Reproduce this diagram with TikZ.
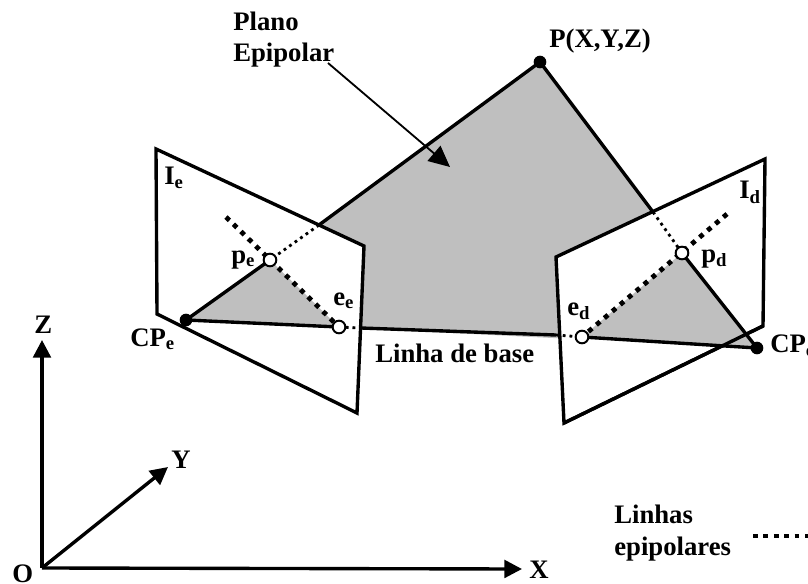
\documentclass[tikz,border=0pt]{standalone}
\usepackage{fontspec}
\setmainfont{Liberation Serif}
\usetikzlibrary{arrows.meta, positioning, calc}

\tikzset{
  lbl/.style={font=\fontsize{19}{22.5}\selectfont\bfseries, inner sep=0pt, align=left, anchor=base west},
  heavy/.style={line width=2.4pt},
  epiline/.style={line width=3.4pt, dash pattern=on 3.4pt off 4pt},
  rayline/.style={line width=2pt, dash pattern=on 2pt off 2.8pt},
  imgplane/.style={heavy, fill=white, line join=miter},
  axisline/.style={line width=2.4pt, -{Triangle[length=12.5pt, width=12.5pt]}},
  opendot/.style={circle, draw=black, line width=1.4pt, fill=white, inner sep=0pt, minimum size=9pt},
  fulldot/.style={circle, fill=black, inner sep=0pt, minimum size=9pt},
}

\begin{document}
\begin{tikzpicture}[x=0.025cm, y=-0.025cm]
  \clip (0,0) rectangle (808,584);
  % epipolar plane points
  \coordinate (P) at (540,62);
  \coordinate (CPe) at (186,320);
  \coordinate (CPd) at (757,348);
  % image plane corners
  \coordinate (le1) at (156,149);
  \coordinate (le2) at (364,246);
  \coordinate (le3) at (357,413);
  \coordinate (le4) at (157,314);
  \coordinate (ld1) at (556,257);
  \coordinate (ld2) at (765,159);
  \coordinate (ld3) at (763,326);
  \coordinate (ld4) at (564,423);
  % where the rays go through the planes
  \coordinate (pe) at (270,260);
  \coordinate (ee) at (339,327);
  \coordinate (pd) at (682,253);
  \coordinate (ed) at (582,337);
  \coordinate (re) at (319,225);
  \coordinate (rd) at (653,212);
  \coordinate (be) at (361,328);
  \coordinate (bd) at (556,335);
  \coordinate (ele) at (226,217);
  \coordinate (eld) at (727,214);

  % plane, then the image planes over it
  \fill[gray!50!white] (P) -- (CPe) -- (CPd) -- cycle;
  \draw[imgplane] (le1) -- (le2) -- (le3) -- (le4) -- cycle;
  \draw[imgplane] (ld1) -- (ld2) -- (ld3) -- (ld4) -- cycle;
  \fill[gray!50!white] (CPe) -- (pe) -- (ee) -- cycle;
  \fill[gray!50!white] (ed) -- (pd) -- (CPd) -- cycle;
  \draw[imgplane, fill=none] (ld3) -- (ld4);

  % rays
  \draw[heavy] (P) -- (re);
  \draw[heavy] (P) -- (rd);
  \draw[rayline] (re) -- (pe);
  \draw[rayline] (rd) -- (pd);
  \draw[heavy] (pe) -- (CPe);
  \draw[heavy] (pd) -- (CPd);
  % baseline
  \draw[heavy] (CPe) -- (ee);
  \draw[rayline] (ee) -- (be);
  \draw[heavy] (be) -- (bd);
  \draw[rayline] (bd) -- (ed);
  \draw[heavy] (ed) -- (CPd);
  % epipolar lines
  \draw[epiline] (ele) -- (ee);
  \draw[epiline] (eld) -- (ed);

  \node[fulldot] (Pdot) at (P) {};
  \node[fulldot] (CPedot) at (CPe) {};
  \node[fulldot] (CPddot) at (CPd) {};
  \node[opendot] (pedot) at (pe) {};
  \node[opendot] (eedot) at (ee) {};
  \node[opendot] (pddot) at (pd) {};
  \node[opendot] (eddot) at (ed) {};

  % labels
  \node[lbl] (Plbl) at (549,48) {P(X,Y,Z)};
  \node[lbl] (planolbl) at (233,62) {Plano\\Epipolar};
  \node[lbl] (Ielbl) at (164,185) {I\textsubscript{e}};
  \node[lbl] (Idlbl) at (739,199) {I\textsubscript{d}};
  \node[lbl] (pelbl) at (231,263) {p\textsubscript{e}};
  \node[lbl] (pdlbl) at (701,262) {p\textsubscript{d}};
  \node[lbl] (eelbl) at (333,305) {e\textsubscript{e}};
  \node[lbl] (edlbl) at (567,315) {e\textsubscript{d}};
  \node[lbl] (CPelbl) at (130,346) {CP\textsubscript{e}};
  \node[lbl] (CPdlbl) at (770,352) {CP\textsubscript{d}};
  \node[lbl] (baselbl) at (375,362) {Linha de base};
  \node[lbl] (leglbl) at (614,555) {Linhas\\epipolares};
  \coordinate (legstart) at (753,536);
  \coordinate (legend) at (812,536);
  \draw[epiline] (legstart) -- (legend);

  % arrow of the plane label
  \coordinate (arrstart) at (328,63);
  \coordinate (arrtip) at (450,167);
  \draw[line width=1.3pt, -{Triangle[length=15pt, width=14pt]}] (arrstart) -- (arrtip);

  % axes
  \coordinate (O) at (42,568);
  \coordinate (Ztip) at (42,340);
  \coordinate (Ytip) at (168,467);
  \coordinate (Xtip) at (522,569);
  \draw[axisline] (O) -- (Ztip);
  \draw[axisline] (O) -- (Ytip);
  \draw[axisline] (O) -- (Xtip);
  \node[lbl] (Zlbl) at (34,333) {Z};
  \node[lbl] (Ylbl) at (171,468) {Y};
  \node[lbl] (Xlbl) at (529,578) {X};
  \node[lbl] (Olbl) at (12,582) {O};
\end{tikzpicture}
\end{document}
